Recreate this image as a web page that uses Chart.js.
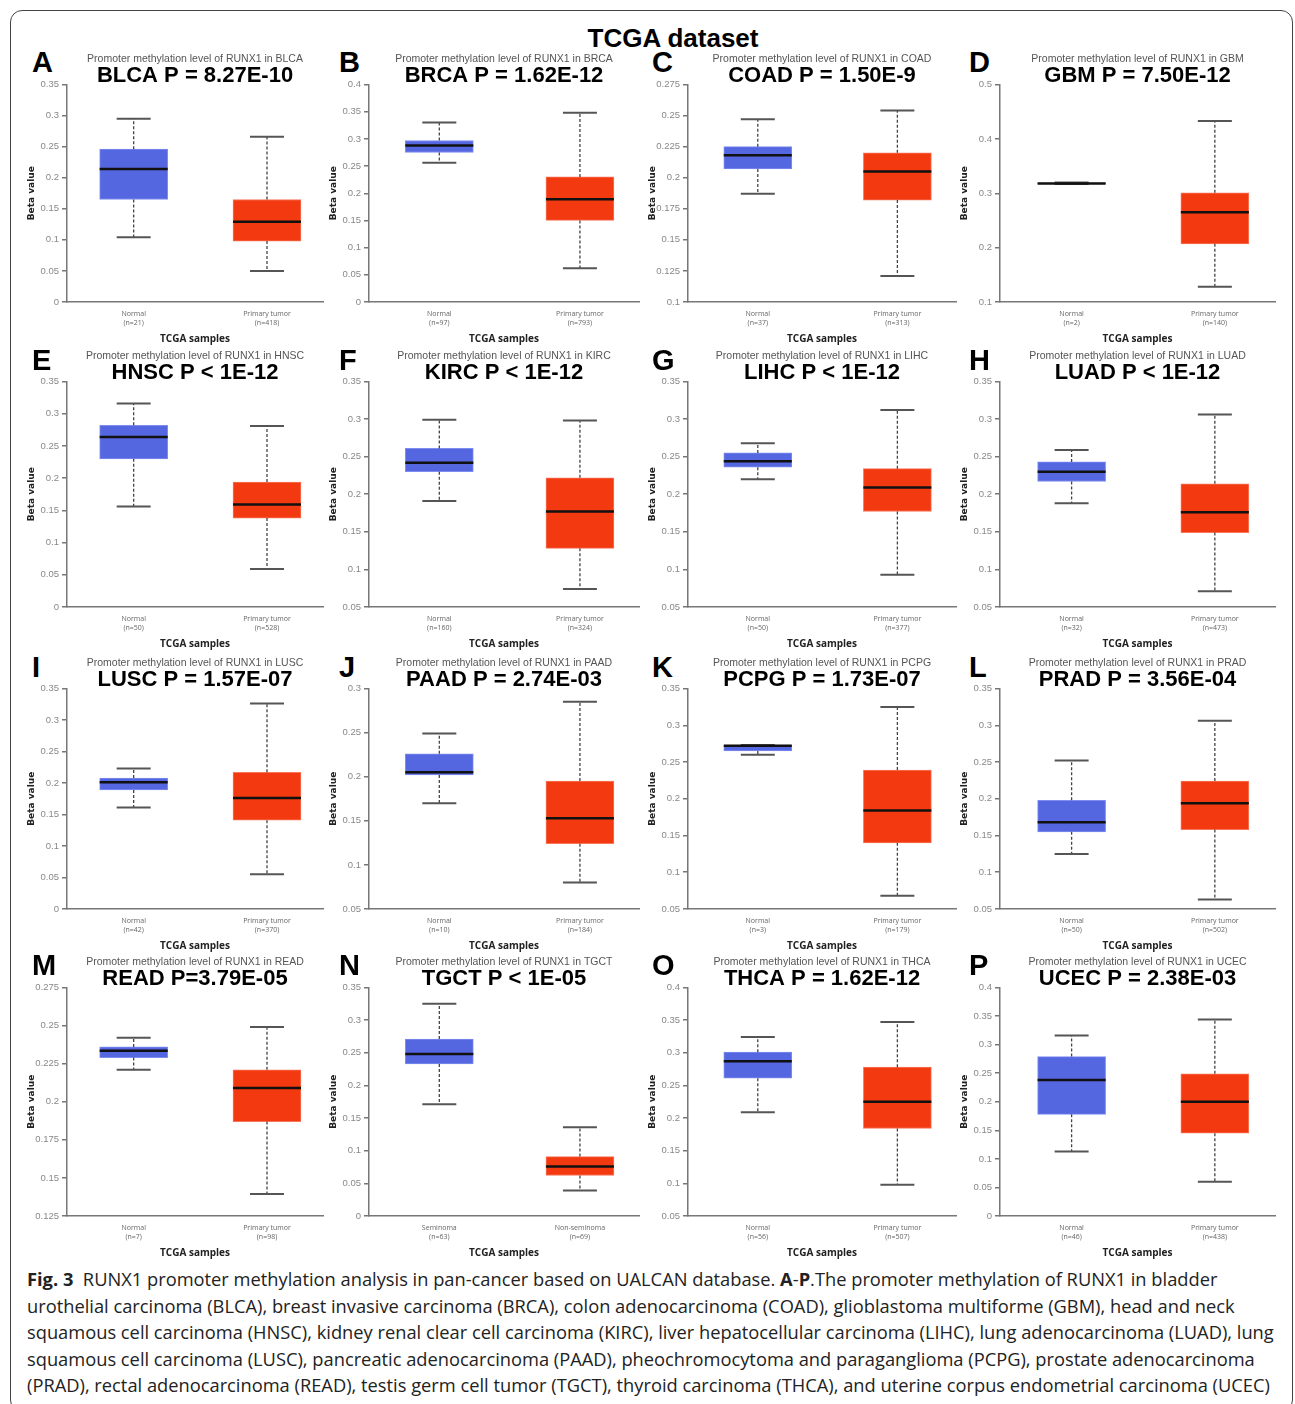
<!DOCTYPE html>
<html>
<head>
<meta charset="utf-8">
<script src="https://cdn.jsdelivr.net/npm/chart.js@4.4.1/dist/chart.umd.min.js"></script>
<style>
body { margin: 0; background: #fff; }
#fig { position: relative; width: 1295px; height: 1404px; overflow: hidden; font-family: 'Liberation Sans', Arial, sans-serif; }
#frame { position: absolute; left: 10px; top: 10px; width: 1281px; height: 1400px; border: 1.5px solid #444; border-radius: 12px; }
#head { position: absolute; left: 0; width: 1346px; top: 25px; text-align: center; font: bold 26px 'Liberation Sans', Arial, sans-serif; line-height: 1; color: #000; }
.letter { position: absolute; font: bold 29px 'Liberation Sans', Arial, sans-serif; line-height: 1; color: #000; }
canvas { position: absolute; }
#caption { position: absolute; left: 27px; top: 1266px; font: 18.3px 'Open Sans', sans-serif; line-height: 26.6px; color: #222; white-space: nowrap; }
</style>
</head>
<body>
<div id="fig">
  <div id="frame"></div>
  <div id="head">TCGA dataset</div>
  <div id="caption"><b>Fig. 3</b>&nbsp; RUNX1 promoter methylation analysis in pan-cancer based on UALCAN database. <b>A</b>-<b>P</b>.The promoter methylation of RUNX1 in bladder<br>urothelial carcinoma (BLCA), breast invasive carcinoma (BRCA), colon adenocarcinoma (COAD), glioblastoma multiforme (GBM), head and neck<br>squamous cell carcinoma (HNSC), kidney renal clear cell carcinoma (KIRC), liver hepatocellular carcinoma (LIHC), lung adenocarcinoma (LUAD), lung<br>squamous cell carcinoma (LUSC), pancreatic adenocarcinoma (PAAD), pheochromocytoma and paraganglioma (PCPG), prostate adenocarcinoma<br>(PRAD), rectal adenocarcinoma (READ), testis germ cell tumor (TGCT), thyroid carcinoma (THCA), and uterine corpus endometrial carcinoma (UCEC)</div>
</div>
<script>
// ---- data ----
const cancers = ['BLCA','BRCA','COAD','GBM','HNSC','KIRC','LIHC','LUAD','LUSC','PAAD','PCPG','PRAD','READ','TGCT','THCA','UCEC'];
const panelLetters = ['A','B','C','D','E','F','G','H','I','J','K','L','M','N','O','P'];
const pValues = ['P = 8.27E-10','P = 1.62E-12','P = 1.50E-9','P = 7.50E-12',
                 'P < 1E-12','P < 1E-12','P < 1E-12','P < 1E-12',
                 'P = 1.57E-07','P = 2.74E-03','P = 1.73E-07','P = 3.56E-04',
                 'P=3.79E-05','P < 1E-05','P = 1.62E-12','P = 2.38E-03'];
const groupNames = [
  ['Normal','Primary tumor'],['Normal','Primary tumor'],['Normal','Primary tumor'],['Normal','Primary tumor'],
  ['Normal','Primary tumor'],['Normal','Primary tumor'],['Normal','Primary tumor'],['Normal','Primary tumor'],
  ['Normal','Primary tumor'],['Normal','Primary tumor'],['Normal','Primary tumor'],['Normal','Primary tumor'],
  ['Normal','Primary tumor'],['Seminoma','Non-seminoma'],['Normal','Primary tumor'],['Normal','Primary tumor']
];
const normalN = [21,97,37,2,50,160,50,32,42,10,3,50,7,63,56,46];
const tumorN  = [418,793,313,140,528,324,377,473,370,184,179,502,98,69,507,438];
const yMin  = [0,0,0.1,0.1, 0,0.05,0.05,0.05, 0,0.05,0.05,0.05, 0.125,0,0.05,0];
const yMax  = [0.35,0.4,0.275,0.5, 0.35,0.35,0.35,0.35, 0.35,0.3,0.35,0.35, 0.275,0.35,0.4,0.4];
const yStep = [0.05,0.05,0.025,0.1, 0.05,0.05,0.05,0.05, 0.05,0.05,0.05,0.05, 0.025,0.05,0.05,0.05];
// [lower whisker, Q1, median, Q3, upper whisker]
const normalStats = [
  [0.104,0.165,0.214,0.246,0.295],[0.256,0.275,0.288,0.297,0.330],[0.187,0.207,0.218,0.225,0.247],[0.317,0.317,0.318,0.319,0.320],
  [0.156,0.230,0.264,0.282,0.316],[0.191,0.230,0.242,0.261,0.299],[0.220,0.236,0.244,0.255,0.268],[0.188,0.217,0.230,0.243,0.259],
  [0.161,0.189,0.201,0.208,0.223],[0.170,0.202,0.205,0.226,0.249],[0.260,0.265,0.272,0.273,0.273],[0.125,0.155,0.168,0.198,0.252],
  [0.221,0.229,0.2335,0.236,0.242],[0.171,0.233,0.248,0.271,0.325],[0.209,0.261,0.287,0.301,0.324],[0.113,0.178,0.238,0.279,0.316]
];
const tumorStats = [
  [0.050,0.098,0.129,0.165,0.266],[0.062,0.150,0.189,0.230,0.348],[0.121,0.182,0.205,0.220,0.254],[0.128,0.207,0.265,0.301,0.433],
  [0.059,0.138,0.159,0.194,0.281],[0.074,0.128,0.177,0.222,0.298],[0.093,0.177,0.209,0.234,0.312],[0.071,0.149,0.176,0.214,0.306],
  [0.055,0.141,0.176,0.217,0.326],[0.080,0.124,0.153,0.195,0.285],[0.068,0.140,0.184,0.239,0.325],[0.063,0.158,0.194,0.224,0.306],
  [0.1395,0.187,0.209,0.221,0.249],[0.039,0.062,0.076,0.091,0.136],[0.098,0.184,0.225,0.278,0.347],[0.060,0.145,0.200,0.249,0.344]
];

// ---- layout ----
const colAxisX = [67, 369, 688, 1000];
const colRight = [323, 639, 956, 1275];
const rowTop = [54, 351, 658, 957];
const rowAxisBottom = [302, 607, 909, 1216];
const letterX = [32, 339, 652, 969];
const letterY = [48, 346, 653, 951];
const Y_AXIS_W = 42, X_AXIS_H = 43;

const BLUE = '#5467E0', RED = '#F2390F', AXIS = '#777';

Chart.defaults.font.family = "'Liberation Sans', Arial, sans-serif";

// whiskers, caps and median drawn with the chart's own y scale
const boxPlugin = {
  id: 'boxWhisker',
  afterDatasetsDraw(chart) {
    const ctx = chart.ctx, y = chart.scales.y;
    const ds = chart.data.datasets[0];
    chart.getDatasetMeta(0).data.forEach((bar, i) => {
      const [lo, q1, med, q3, hi] = ds.stats[i];
      const x = bar.x, w = bar.width;
      const line = (x1, y1, x2, y2) => { ctx.beginPath(); ctx.moveTo(x1, y1); ctx.lineTo(x2, y2); ctx.stroke(); };
      ctx.save();
      ctx.strokeStyle = '#444';
      ctx.lineWidth = 1.3;
      ctx.setLineDash([3, 2]);
      if (hi > q3) line(x, y.getPixelForValue(q3), x, y.getPixelForValue(hi));
      if (lo < q1) line(x, y.getPixelForValue(q1), x, y.getPixelForValue(lo));
      ctx.setLineDash([]);
      ctx.strokeStyle = '#555';
      ctx.lineWidth = 2;
      line(x - w / 4, y.getPixelForValue(hi), x + w / 4, y.getPixelForValue(hi));
      line(x - w / 4, y.getPixelForValue(lo), x + w / 4, y.getPixelForValue(lo));
      ctx.strokeStyle = '#111';
      ctx.lineWidth = 2.5;
      line(x - w / 2, y.getPixelForValue(med), x + w / 2, y.getPixelForValue(med));
      ctx.restore();
    });
  }
};

const fig = document.getElementById('fig');

cancers.forEach((c, i) => {
  const col = i % 4, row = Math.floor(i / 4);

  const letter = document.createElement('div');
  letter.className = 'letter';
  letter.textContent = panelLetters[i];
  letter.style.left = letterX[col] + 'px';
  letter.style.top = letterY[row] + 'px';
  fig.appendChild(letter);

  const canvas = document.createElement('canvas');
  const left = colAxisX[col] - Y_AXIS_W;
  const top = rowTop[row];
  const w = colRight[col] - left + 2;
  const h = rowAxisBottom[row] + X_AXIS_H - top;
  canvas.width = w; canvas.height = h;
  canvas.style.left = left + 'px';
  canvas.style.top = top + 'px';
  canvas.style.width = w + 'px';
  canvas.style.height = h + 'px';
  fig.appendChild(canvas);

  const nStat = normalStats[i], tStat = tumorStats[i];
  const counts = [normalN[i], tumorN[i]];

  new Chart(canvas, {
    type: 'bar',
    data: {
      datasets: [{
        data: [{ x: 0, y: [nStat[1], nStat[3]] }, { x: 1, y: [tStat[1], tStat[3]] }],
        stats: [nStat, tStat],
        backgroundColor: [BLUE, RED],
        borderColor: ['#7F8DF0', '#F8765A'],
        borderWidth: 1,
        borderSkipped: false,
        barThickness: 68
      }]
    },
    options: {
      responsive: false,
      animation: false,
      events: [],
      layout: { padding: { left: 0, right: 2, top: 0, bottom: 0 } },
      plugins: {
        legend: { display: false },
        tooltip: { enabled: false },
        title: {
          display: true, fullSize: false,
          text: 'Promoter methylation level of RUNX1 in ' + c,
          color: '#555',
          font: { size: 10.5, weight: 'normal', lineHeight: 1 },
          padding: 0
        },
        subtitle: {
          display: true, fullSize: false,
          text: c + ' ' + pValues[i],
          color: '#000',
          font: { size: 22, weight: 'bold', lineHeight: 1 },
          padding: { top: 0, bottom: -2 }
        }
      },
      scales: {
        x: {
          type: 'linear', min: -0.5, max: 1.42, offset: false,
          afterBuildTicks: s => { s.ticks = [{ value: 0 }, { value: 1 }]; },
          afterFit: s => { s.height = X_AXIS_H; },
          grid: { display: false, drawTicks: false },
          border: { display: true, color: AXIS, width: 1.5 },
          ticks: {
            padding: 7, autoSkip: false, maxRotation: 0, color: '#666',
            font: { family: "'Open Sans', sans-serif", size: 7, lineHeight: 1.35 },
            callback: (v, idx) => [groupNames[i][idx], '(n=' + counts[idx] + ')']
          },
          title: {
            display: true, text: 'TCGA samples', color: '#222',
            font: { family: "'Open Sans', sans-serif", size: 10, weight: 'bold', lineHeight: 1.2 },
            padding: { top: 0, bottom: 0 }
          }
        },
        y: {
          min: yMin[i], max: yMax[i],
          afterFit: s => { s.width = Y_AXIS_W; },
          ticks: {
            stepSize: yStep[i], padding: 3, color: '#888',
            font: { size: 9.5 },
            callback: v => String(+v.toFixed(3))
          },
          grid: { display: true, drawOnChartArea: false, drawTicks: true, tickLength: 5, color: AXIS, lineWidth: 1.5 },
          border: { display: true, color: AXIS, width: 1.5 },
          title: {
            display: true, text: 'Beta value', color: '#222',
            font: { family: "'DejaVu Sans', sans-serif", size: 9, weight: 'bold', lineHeight: 1.2 },
            padding: { top: 1, bottom: 0 }
          }
        }
      }
    },
    plugins: [boxPlugin]
  });
});
</script>
</body>
</html>
